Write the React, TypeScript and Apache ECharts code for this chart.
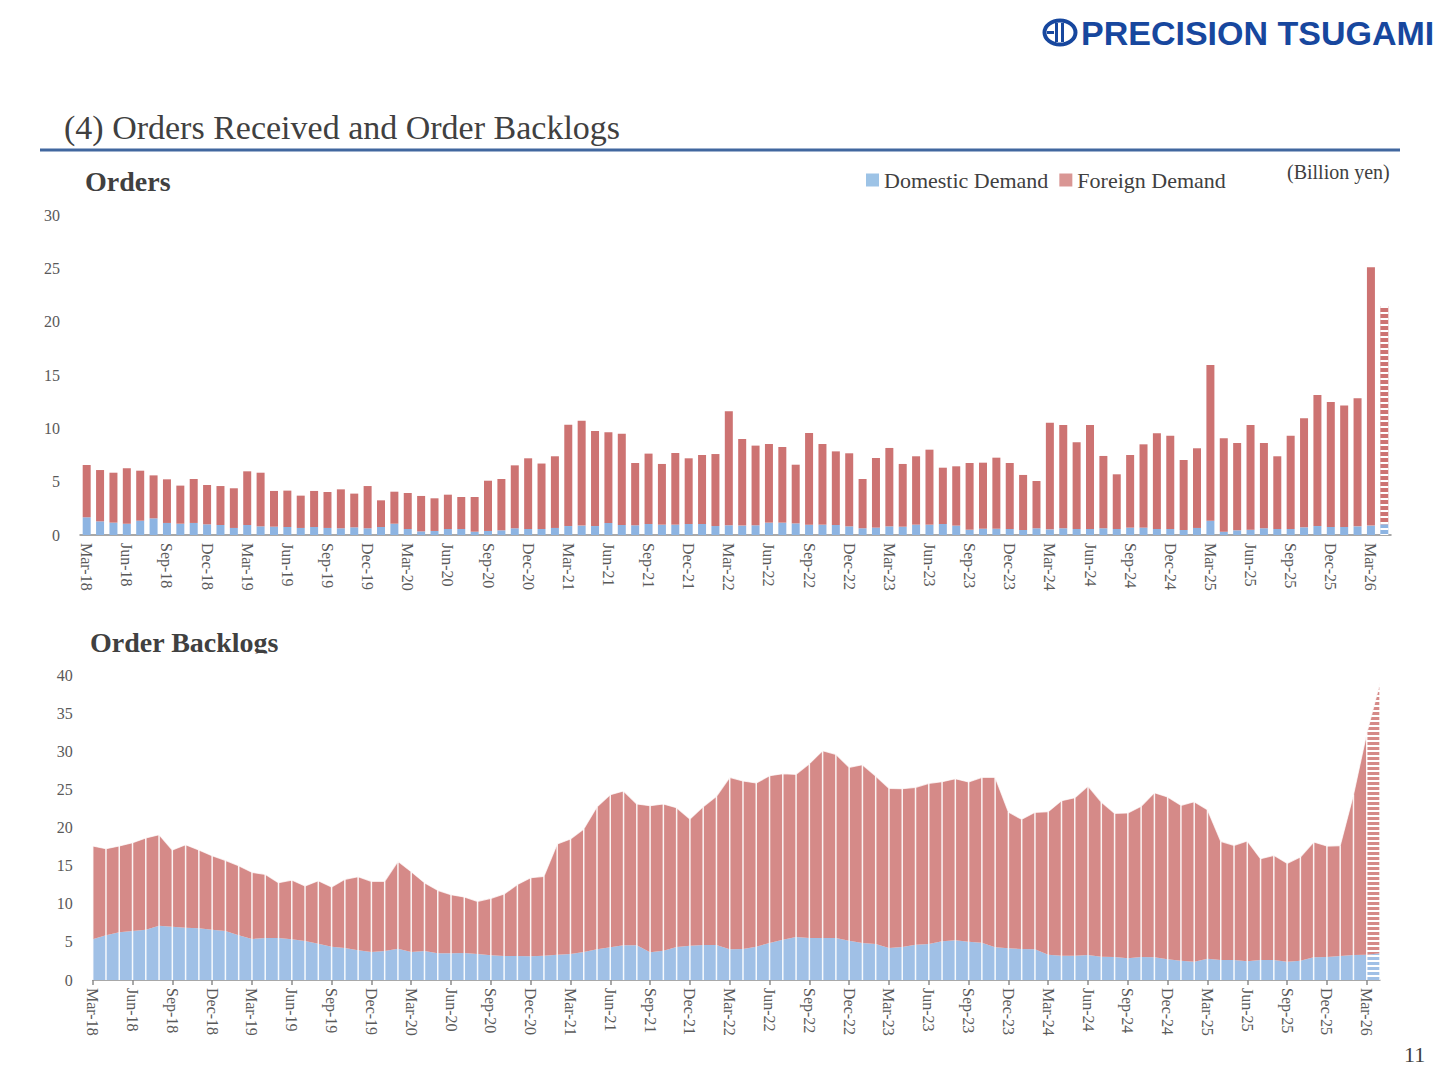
import React, { useEffect, useRef } from "react";
import * as echarts from "echarts";

const SERIF = "'Liberation Serif', 'Times New Roman', serif";
const SANS = "'Liberation Sans', Arial, sans-serif";

const categories = [
  "Mar-18", "Apr-18", "May-18", "Jun-18", "Jul-18", "Aug-18", "Sep-18", "Oct-18", "Nov-18", "Dec-18",
  "Jan-19", "Feb-19", "Mar-19", "Apr-19", "May-19", "Jun-19", "Jul-19", "Aug-19", "Sep-19", "Oct-19", "Nov-19", "Dec-19",
  "Jan-20", "Feb-20", "Mar-20", "Apr-20", "May-20", "Jun-20", "Jul-20", "Aug-20", "Sep-20", "Oct-20", "Nov-20", "Dec-20",
  "Jan-21", "Feb-21", "Mar-21", "Apr-21", "May-21", "Jun-21", "Jul-21", "Aug-21", "Sep-21", "Oct-21", "Nov-21", "Dec-21",
  "Jan-22", "Feb-22", "Mar-22", "Apr-22", "May-22", "Jun-22", "Jul-22", "Aug-22", "Sep-22", "Oct-22", "Nov-22", "Dec-22",
  "Jan-23", "Feb-23", "Mar-23", "Apr-23", "May-23", "Jun-23", "Jul-23", "Aug-23", "Sep-23", "Oct-23", "Nov-23", "Dec-23",
  "Jan-24", "Feb-24", "Mar-24", "Apr-24", "May-24", "Jun-24", "Jul-24", "Aug-24", "Sep-24", "Oct-24", "Nov-24", "Dec-24",
  "Jan-25", "Feb-25", "Mar-25", "Apr-25", "May-25", "Jun-25", "Jul-25", "Aug-25", "Sep-25", "Oct-25", "Nov-25", "Dec-25",
  "Jan-26", "Feb-26", "Mar-26", "Apr-26",
];

// Orders received (billion yen)
const ordersDomestic = [
  1.66, 1.28, 1.16, 1.06, 1.34, 1.56, 1.13, 1.06, 1.13, 1.0,
  0.94, 0.66, 0.94, 0.81, 0.78, 0.75, 0.66, 0.75, 0.66, 0.63, 0.72, 0.63,
  0.75, 1.06, 0.56, 0.34, 0.38, 0.56, 0.56, 0.31, 0.38, 0.44, 0.63, 0.56,
  0.56, 0.66, 0.84, 0.88, 0.84, 1.13, 0.94, 0.91, 1.03, 0.97, 0.97, 1.03,
  1.03, 0.84, 0.91, 0.88, 0.91, 1.16, 1.16, 1.09, 0.97, 0.97, 0.94, 0.81,
  0.63, 0.69, 0.81, 0.78, 0.97, 0.97, 1.03, 0.88, 0.5, 0.59, 0.59, 0.56,
  0.47, 0.63, 0.53, 0.63, 0.56, 0.56, 0.63, 0.56, 0.69, 0.69, 0.56, 0.56,
  0.47, 0.66, 1.34, 0.31, 0.44, 0.5, 0.63, 0.56, 0.56, 0.72, 0.84, 0.75,
  0.75, 0.81, 0.88, 1.0,
];
const ordersForeign = [
  4.9, 4.81, 4.68, 5.19, 4.69, 4.03, 4.09, 3.57, 4.12, 3.69,
  3.65, 3.72, 5.03, 5.03, 3.35, 3.41, 3.03, 3.38, 3.37, 3.65, 3.16, 3.96,
  2.5, 3.0, 3.38, 3.32, 3.06, 3.22, 3.0, 3.25, 4.71, 4.81, 5.9, 6.63,
  6.14, 6.72, 9.5, 9.84, 8.91, 8.5, 8.56, 5.84, 6.6, 5.69, 6.72, 6.16,
  6.47, 6.75, 10.68, 8.12, 7.47, 7.37, 7.09, 5.5, 8.59, 7.56, 6.9, 6.85,
  4.62, 6.53, 7.35, 5.88, 6.41, 7.03, 5.28, 5.56, 6.25, 6.19, 6.66, 6.19,
  5.16, 4.43, 10.0, 9.68, 8.13, 9.75, 6.78, 5.13, 6.81, 7.81, 8.97, 8.75,
  6.56, 7.47, 14.6, 8.75, 8.19, 9.81, 8.0, 6.82, 8.75, 10.22, 12.29, 11.72,
  11.38, 12.0, 24.21, 20.47,
];

// Order backlogs (billion yen)
const backlogDomestic = [
  5.33, 5.86, 6.25, 6.43, 6.6, 7.13, 6.99, 6.86, 6.78, 6.6,
  6.43, 5.86, 5.38, 5.51, 5.51, 5.33, 5.11, 4.77, 4.37, 4.2, 3.89, 3.67,
  3.8, 4.11, 3.67, 3.8, 3.5, 3.5, 3.54, 3.41, 3.23, 3.15, 3.15, 3.1,
  3.19, 3.32, 3.41, 3.67, 4.02, 4.28, 4.55, 4.55, 3.63, 3.85, 4.33, 4.5,
  4.59, 4.59, 4.02, 4.07, 4.37, 4.85, 5.29, 5.64, 5.51, 5.51, 5.51, 5.16,
  4.85, 4.72, 4.2, 4.33, 4.63, 4.72, 5.07, 5.22, 5.03, 4.9, 4.28, 4.15,
  4.07, 4.02, 3.32, 3.19, 3.19, 3.28, 3.06, 3.02, 2.84, 3.02, 2.97, 2.71,
  2.54, 2.4, 2.8, 2.62, 2.62, 2.45, 2.62, 2.62, 2.4, 2.54, 2.97, 3.02,
  3.15, 3.28, 3.32, 3.5,
];
const backlogForeign = [
  12.24, 11.36, 11.32, 11.58, 12.02, 11.93, 10.06, 10.89, 10.27, 9.71,
  9.26, 9.13, 8.74, 8.35, 7.26, 7.78, 7.22, 8.26, 7.83, 9.0, 9.66, 9.27,
  9.14, 11.45, 10.54, 8.97, 8.26, 7.69, 7.35, 6.91, 7.48, 8.13, 9.37, 10.32,
  10.41, 14.52, 15.08, 16.13, 18.71, 20.03, 20.24, 18.53, 19.23, 19.23, 18.27, 16.61,
  18.14, 19.5, 22.56, 22.03, 21.47, 21.95, 21.77, 21.33, 22.86, 24.57, 24.09, 22.73,
  23.39, 22.03, 20.94, 20.76, 20.64, 21.07, 20.94, 21.18, 20.94, 21.68, 22.3, 17.88,
  17.0, 17.97, 18.76, 20.33, 20.72, 22.16, 20.28, 18.84, 19.06, 19.76, 21.6, 21.29,
  20.37, 20.99, 19.54, 15.57, 15.04, 15.78, 13.29, 13.73, 12.9, 13.59, 15.13, 14.55,
  14.47, 21.03, 29.03, 35.49,
];

const ordersAxis = { min: 0, max: 30, interval: 5 };
const backlogAxis = { min: 0, max: 40, interval: 5 };

const TOP_BLUE = "#8DB4E2";
const TOP_RED = "#CD7372";
const BOT_BLUE = "#A0C0E6";
const BOT_RED = "#D58A88";
const LEG_BLUE = "#9DC3E6";
const LEG_RED = "#D99694";
const LABEL = "#595959";
const AXIS = "#8C8C8C";
const LOGO = "#17479E";

const stripe = (on: number, off: number) => ({
  symbol: "rect",
  symbolSize: 1,
  dashArrayX: [[10, 0]],
  dashArrayY: [on, off],
  rotation: 0,
  color: "#ffffff",
});

export default function App() {
  const ref = useRef<HTMLDivElement>(null);

  useEffect(() => {
    if (!ref.current) return;
    const chart = echarts.init(ref.current, undefined, { renderer: "svg" });
    const last = categories.length - 1;

    const topDom = ordersDomestic.map((v, i) =>
      i === last ? { value: v, itemStyle: { color: TOP_BLUE, decal: stripe(2, 4) } } : v
    );
    const topFor = ordersForeign.map((v, i) =>
      i === last ? { value: v, itemStyle: { color: TOP_RED, decal: stripe(2, 4) } } : v
    );

    const mainDom = backlogDomestic.map((v, i) => (i < last ? v : "-"));
    const mainFor = backlogForeign.map((v, i) => (i < last ? v : "-"));
    const fcDom = backlogDomestic.map((v, i) => (i >= last - 1 ? v : "-"));
    const fcFor = backlogForeign.map((v, i) => (i >= last - 1 ? v : "-"));
    const totals = backlogDomestic.map((v, i) => +(v + backlogForeign[i]).toFixed(2));

    const xLabel = {
      interval: 2,
      rotate: -90,
      margin: 8,
      fontSize: 16,
      color: LABEL,
      fontFamily: SERIF,
    };
    const yLabel = { fontSize: 16, color: LABEL, fontFamily: SERIF, margin: 20 };

    const txt = (text: string, x: number, y: number, font: string, fill = "#404040", align = "left") => ({
      type: "text",
      x,
      y,
      z: 50,
      style: { text, font, fill, align, verticalAlign: "middle" },
    });

    chart.setOption({
      animation: false,
      backgroundColor: "#ffffff",
      grid: [
        { left: 80, right: 49, top: 215, height: 320 },
        { left: 92.7, right: 60, top: 675, height: 305 },
      ],
      legend: {
        left: 866,
        top: 169,
        padding: 0,
        icon: "rect",
        itemWidth: 13,
        itemHeight: 13,
        itemGap: 11,
        selectedMode: false,
        textStyle: { fontFamily: SERIF, fontSize: 22, color: "#404040" },
        data: [
          { name: "Domestic Demand", itemStyle: { color: LEG_BLUE } },
          { name: "Foreign Demand", itemStyle: { color: LEG_RED } },
        ],
      },
      xAxis: [
        {
          type: "category",
          gridIndex: 0,
          data: categories,
          boundaryGap: true,
          axisLine: { lineStyle: { color: AXIS, width: 1.5 } },
          axisTick: { interval: 2, length: 5, lineStyle: { color: AXIS, width: 1.5 } },
          axisLabel: xLabel,
        },
        {
          type: "category",
          gridIndex: 1,
          data: categories,
          boundaryGap: false,
          axisLine: { lineStyle: { color: AXIS, width: 1.5 } },
          axisTick: { interval: 2, length: 5, lineStyle: { color: AXIS, width: 1.5 } },
          axisLabel: xLabel,
        },
      ],
      yAxis: [
        {
          type: "value",
          gridIndex: 0,
          ...ordersAxis,
          splitLine: { show: false },
          axisLine: { show: false },
          axisTick: { show: false },
          axisLabel: yLabel,
        },
        {
          type: "value",
          gridIndex: 1,
          ...backlogAxis,
          splitLine: { show: false },
          axisLine: { show: false },
          axisTick: { show: false },
          axisLabel: yLabel,
        },
      ],
      series: [
        {
          name: "Domestic Demand",
          type: "bar",
          xAxisIndex: 0,
          yAxisIndex: 0,
          stack: "orders",
          barWidth: 8,
          itemStyle: { color: TOP_BLUE },
          data: topDom,
        },
        {
          name: "Foreign Demand",
          type: "bar",
          xAxisIndex: 0,
          yAxisIndex: 0,
          stack: "orders",
          barWidth: 8,
          itemStyle: { color: TOP_RED },
          data: topFor,
        },
        {
          name: "Domestic Demand",
          type: "line",
          xAxisIndex: 1,
          yAxisIndex: 1,
          stack: "backlog",
          symbol: "none",
          lineStyle: { width: 0, opacity: 0 },
          itemStyle: { color: BOT_BLUE },
          areaStyle: { color: BOT_BLUE, opacity: 1 },
          data: mainDom,
        },
        {
          name: "Foreign Demand",
          type: "line",
          xAxisIndex: 1,
          yAxisIndex: 1,
          stack: "backlog",
          symbol: "none",
          lineStyle: { width: 1.2, color: "#ffffff", opacity: 0.75 },
          itemStyle: { color: BOT_RED },
          areaStyle: { color: BOT_RED, opacity: 1 },
          data: mainFor,
        },
        {
          name: "Domestic Demand (plan)",
          type: "line",
          xAxisIndex: 1,
          yAxisIndex: 1,
          stack: "backlogPlan",
          symbol: "none",
          lineStyle: { width: 0, opacity: 0 },
          itemStyle: { color: BOT_BLUE, decal: stripe(2, 3) },
          areaStyle: { color: BOT_BLUE, opacity: 1 },
          data: fcDom,
        },
        {
          name: "Foreign Demand (plan)",
          type: "line",
          xAxisIndex: 1,
          yAxisIndex: 1,
          stack: "backlogPlan",
          symbol: "none",
          lineStyle: { width: 1.2, color: "#ffffff", opacity: 0.75 },
          itemStyle: { color: BOT_RED, decal: stripe(2, 3) },
          areaStyle: { color: BOT_RED, opacity: 1 },
          data: fcFor,
        },
        {
          name: "separators",
          type: "bar",
          xAxisIndex: 1,
          yAxisIndex: 1,
          barWidth: 1.5,
          z: 4,
          silent: true,
          itemStyle: { color: "rgba(255,255,255,0.9)" },
          data: totals,
        },
      ],
      graphic: [
        {
          type: "ellipse",
          z: 50,
          shape: { cx: 1060, cy: 32.5, rx: 15.5, ry: 12 },
          style: { fill: "none", stroke: LOGO, lineWidth: 4 },
        },
        { type: "rect", z: 50, shape: { x: 1055, y: 23, width: 3, height: 19 }, style: { fill: LOGO } },
        { type: "rect", z: 50, shape: { x: 1061, y: 23, width: 3, height: 19 }, style: { fill: LOGO } },
        { type: "rect", z: 50, shape: { x: 1047, y: 31, width: 7, height: 3 }, style: { fill: LOGO } },
        txt("PRECISION TSUGAMI", 1081, 33, `bold 34px ${SANS}`, LOGO),
        txt("(4) Orders Received and Order Backlogs", 64, 127, `34px ${SERIF}`, "#404040"),
        {
          type: "line",
          z: 50,
          shape: { x1: 40, y1: 150, x2: 1400, y2: 150 },
          style: { stroke: "#41679F", lineWidth: 3 },
        },
        txt("Orders", 85, 181, `bold 28px ${SERIF}`, "#404040"),
        txt("(Billion yen)", 1287, 172, `20px ${SERIF}`, "#404040"),
        txt("Order Backlogs", 90, 642, `bold 28px ${SERIF}`, "#404040"),
        {
          type: "rect",
          z: 60,
          shape: { x: 80, y: 653.5, width: 230, height: 14 },
          style: { fill: "#ffffff" },
        },
        txt("11", 1404, 1054, `22px ${SERIF}`, "#404040"),
      ],
    });

    return () => chart.dispose();
  }, []);

  return (
    <div
      ref={ref}
      style={{ position: "absolute", left: 0, top: 0, width: 1440, height: 1080, background: "#fff" }}
    />
  );
}
